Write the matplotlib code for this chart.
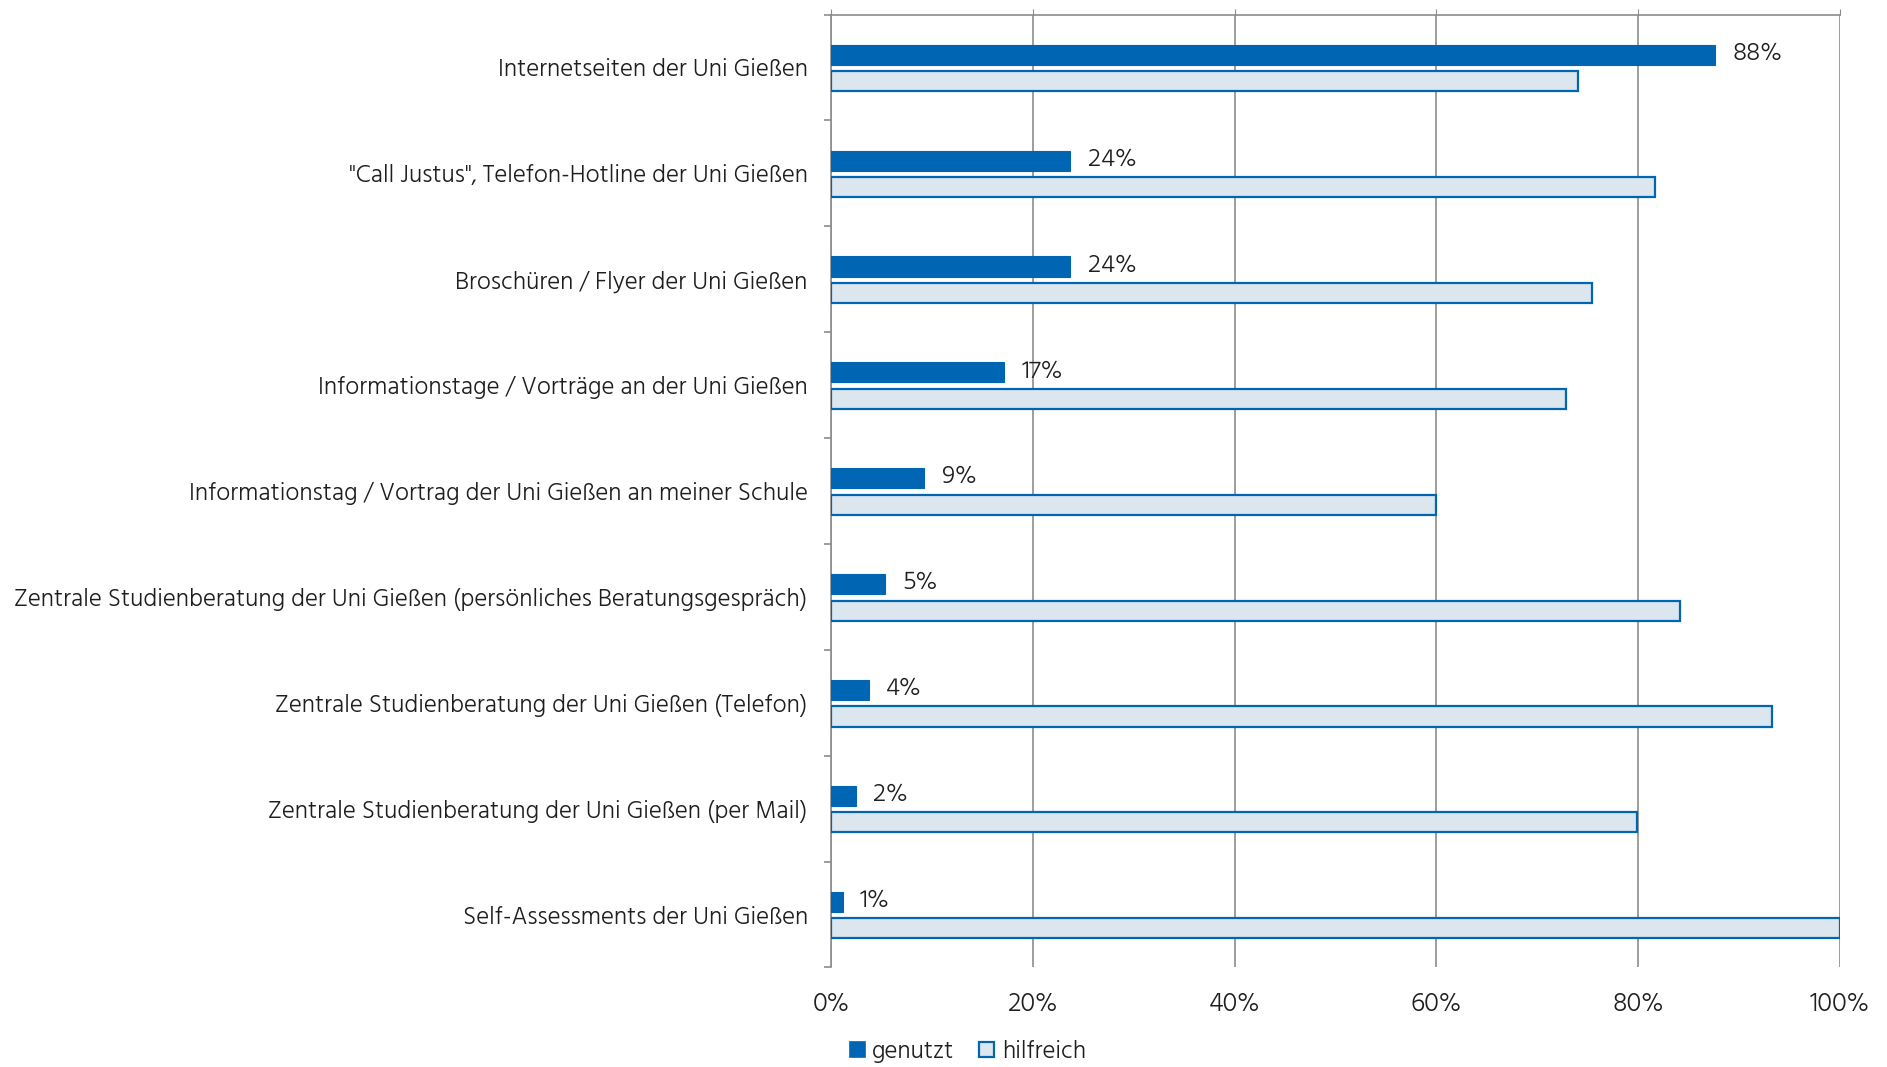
import matplotlib
matplotlib.use("Agg")
import matplotlib.pyplot as plt
import numpy as np
from matplotlib.patches import Patch

categories = [
    "Internetseiten der Uni Gießen",
    "\"Call Justus\", Telefon-Hotline der Uni Gießen",
    "Broschüren / Flyer der Uni Gießen",
    "Informationstage / Vorträge an der Uni Gießen",
    "Informationstag / Vortrag der Uni Gießen an meiner Schule",
    "Zentrale Studienberatung der Uni Gießen (persönliches Beratungsgespräch)",
    "Zentrale Studienberatung der Uni Gießen (Telefon)",
    "Zentrale Studienberatung der Uni Gießen (per Mail)",
    "Self-Assessments der Uni Gießen",
]
genutzt = [87.6, 23.7, 23.7, 17.1, 9.2, 5.3, 3.7, 2.4, 1.1]
hilfreich = [74.0, 81.7, 75.4, 72.8, 60.0, 84.2, 93.3, 79.9, 100.0]
xticks = [0, 20, 40, 60, 80, 100]
series_names = ["genutzt", "hilfreich"]

DARK = "#0066B3"
LIGHT = "#DCE6EE"
GRID = "#8C8C8C"
TXT = "#1E1E1E"

plt.rcParams['font.family'] = ['Hind', 'Open Sans', 'DejaVu Sans']
plt.rcParams['font.weight'] = 'light'
FS_CAT = 18
FS_NUM = 19
FS_TICK = 19.5
FS_LEG = 18

fig = plt.figure(figsize=(18.87, 10.67), dpi=100)
ax = fig.add_axes([0.4406, 0.0933, 0.975 - 0.4406, 0.9864 - 0.0933])

n = len(categories)
y = np.arange(n)
h = 0.19
ax.barh(y - 0.12, genutzt, height=h, color=DARK, edgecolor=DARK, linewidth=0.8, zorder=3)
ax.barh(y + 0.13, hilfreich, height=h, color=LIGHT, edgecolor=DARK, linewidth=1.6, zorder=3)

for yi, v in zip(y, genutzt):
    ax.annotate(f"{round(v)}%", (v, yi - 0.12), xytext=(12.5, 1), textcoords="offset points",
                ha="left", va="center", fontsize=FS_NUM, color=TXT)

ax.set_xlim(0, 100)
ax.set_ylim(n - 0.5, -0.5)
ax.set_xticks(xticks)
ax.set_xticklabels([f"{t}%" for t in xticks])
ax.xaxis.set_ticks_position('top')
ax.tick_params(axis='x', which='both', top=True, bottom=False, labeltop=False, labelbottom=True,
               direction='out', length=4, color=GRID, labelsize=FS_TICK, labelcolor=TXT, pad=14)
ax.grid(axis='x', color=GRID, linewidth=1.2, zorder=0)

ax.set_yticks(y)
ax.set_yticklabels(categories)
ax.set_yticks(np.arange(n + 1) - 0.5, minor=True)
ax.tick_params(axis='y', which='major', length=0, labelsize=FS_CAT, labelcolor=TXT, pad=17)
ax.tick_params(axis='y', which='minor', length=5, color=GRID, width=1.2, direction='out')

for s in ['right', 'bottom']:
    ax.spines[s].set_visible(False)
for s in ['left', 'top']:
    ax.spines[s].set_color(GRID)
    ax.spines[s].set_linewidth(1.2)

handles = [Patch(facecolor=DARK, edgecolor=DARK, linewidth=1.2),
           Patch(facecolor=LIGHT, edgecolor=DARK, linewidth=1.6)]
fig.legend(handles, series_names, loc='center left', bbox_to_anchor=(0.4502, 0.0142), ncol=2,
           frameon=False, fontsize=FS_LEG, handlelength=0.6, handleheight=0.6, handletextpad=0.3,
           columnspacing=1.0, labelcolor=TXT, borderaxespad=0, borderpad=0)

fig.savefig("out.png", dpi=100)
